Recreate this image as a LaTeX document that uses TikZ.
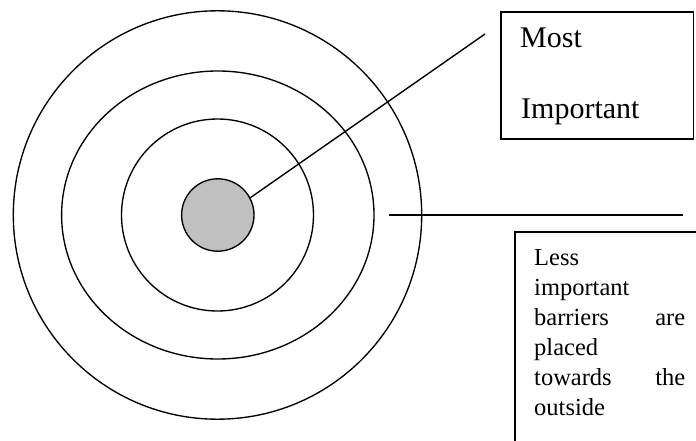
\documentclass[tikz,border=0pt]{standalone}
\usepackage{fontspec}
\setmainfont{Liberation Serif}
\usetikzlibrary{shapes.geometric}
\definecolor{coregray}{RGB}{192,192,192}
\begin{document}
\begin{tikzpicture}[x=1pt,y=-1pt,
  ring/.style={draw, line width=1.35pt, inner sep=0pt},
  boxframe/.style={draw, line width=1.6pt, rectangle, inner sep=0pt, anchor=north west},
  bigtext/.style={anchor=base west, inner sep=0pt, font=\fontsize{30}{36}\selectfont},
  smalltext/.style={anchor=base west, inner sep=0pt, font=\fontsize{24.5}{30}\selectfont},
  conn/.style={line width=1.4pt}]
\fill[white] (0,0) rectangle (696,441);
\useasboundingbox (0,0) rectangle (696,441);
\clip (0,0) rectangle (696,441);
% target rings
\node[ring, circle, minimum size=408.4pt] (outer) at (217.5,215) {};
\node[ring, ellipse, minimum width=312.4pt, minimum height=288pt] (second) at (217.8,215) {};
\node[ring, circle, minimum size=192pt] (third) at (217.5,215) {};
\node[ring, circle, minimum size=72.4pt, fill=coregray] (core) at (217.8,215) {};
% boxes
\node[boxframe, minimum width=192.5pt, minimum height=127pt] (most) at (500,11) {};
\node[bigtext] (mostA) at (520,48) {Most};
\node[bigtext] (mostB) at (521,119) {Important};
\node[boxframe, minimum width=191pt, minimum height=240pt] (less) at (514,231) {};
\node[smalltext] (l1) at (534,265) {Less};
\node[smalltext] (l2) at (534,295) {important};
\node[smalltext] (l3) at (534,325) {\hbox to 151pt{barriers\hfill are}};
\node[smalltext] (l4) at (534,355) {placed};
\node[smalltext] (l5) at (534,385) {\hbox to 151pt{towards\hfill the}};
\node[smalltext] (l6) at (534,415) {outside};
% connectors
\coordinate (mostend) at (485,34);
\draw[conn] (core.28) -- (mostend);
\coordinate (lineA) at (389,215);
\coordinate (lineB) at (683,215);
\draw[conn] (lineA) -- (lineB);
\end{tikzpicture}
\end{document}
